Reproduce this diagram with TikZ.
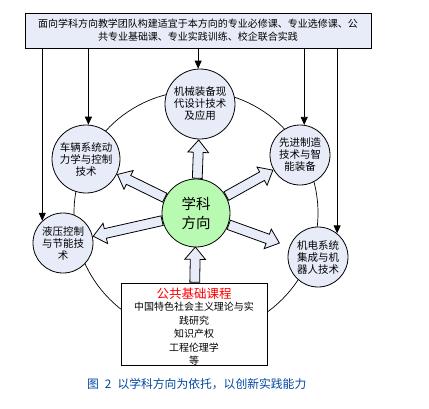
\documentclass[tikz,border=0pt]{standalone}
\usepackage{fontspec}
\setmainfont{Noto Sans CJK SC}
\usepackage{xcolor}
\usetikzlibrary{positioning, shapes.arrows, arrows.meta, calc}
\definecolor{paleblue}{RGB}{232,236,248}
\definecolor{palegreen}{RGB}{184,250,178}
\definecolor{capblue}{RGB}{0,70,160}

% block arrow from one node to another
\newcommand{\bigarrow}[3][1pt]{%
  \path (#2) -- (#3) coordinate[pos=0] (ba-s) coordinate[pos=1] (ba-e);
  \path let \p1=(ba-s), \p2=(ba-e), \n1={atan2(\y2-\y1,\x2-\x1)}, \n2={veclen(\x2-\x1,\y2-\y1)-#1} in
    node[bigarr, rotate=\n1, minimum height=\n2, anchor=tail] at (ba-s) {};
}

\begin{document}
\begin{tikzpicture}[x=1pt, y=-1pt,
    topic/.style={draw, circle, fill=paleblue, line width=0.8pt, inner sep=0pt, align=center, font=\fontsize{10.5}{12}\selectfont},
    plain/.style={draw, line width=0.8pt, align=center, inner sep=0pt},
    arr/.style={-{Triangle[length=8pt, width=7pt]}, line width=0.8pt},
    bigarr/.style={single arrow, draw, fill=paleblue, line width=0.8pt, inner sep=4.5pt, single arrow head extend=5.5pt, single arrow tip angle=80}]
    \useasboundingbox (0,0) rectangle (429,408);

    % The ring behind the topics
    \coordinate (hub) at (196,213);
    \draw[line width=0.7pt] (hub) circle[radius=122pt];

    % Top box
    \node[plain, fill=paleblue, minimum width=346pt, minimum height=35pt, font=\fontsize{10}{13}\selectfont] (top) at (198,30.5)
        {面向学科方向教学团队构建适宜于本方向的专业必修课、专业选修课、公\\共专业基础课、专业实践训练、校企联合实践};

    % Topic circles
    \node[topic, minimum size=70pt] (mech) at (200,104) {机械装备现\\代设计技术\\及应用};
    \node[topic, minimum size=68pt] (veh) at (86,159) {车辆系统动\\力学与控制\\技术};
    \node[topic, minimum size=60pt] (adv) at (300,155) {先进制造\\技术与智\\能装备};
    \node[topic, minimum size=60pt] (hyd) at (63,243) {液压控制\\与节能技\\术};
    \node[topic, minimum size=60pt] (robo) at (318,257) {机电系统\\集成与机\\器人技术};

    % Centre hub
    \node[draw, circle, fill=palegreen, line width=0.8pt, minimum size=68pt, inner sep=0pt, align=center, font=\fontsize{14.5}{19}\selectfont] (core) at (hub) {学科\\方向};

    % Bottom box and its list
    \node[plain, fill=white, minimum width=146pt, minimum height=82pt] (base) at (194,324) {};
    \node[align=center, inner sep=0pt, font=\fontsize{10}{13.6}\selectfont] (baselist) at (194,327)
        {{\color{red}\fontsize{12.5}{15}\selectfont 公共基础课程}\\[-2pt] 中国特色社会主义理论与实\\ 践研究\\ 知识产权\\ 工程伦理学\\ 等};

    % Block arrows out of the hub
    \bigarrow{core}{mech}
    \bigarrow{core}{veh}
    \bigarrow{core}{adv}
    \bigarrow{core}{hyd}
    \bigarrow[11pt]{core}{robo}
    \bigarrow[0pt]{base}{core}

    % Arrows down from the top box
    \draw[arr] (hyd.133 |- top.south) -- (hyd.133);
    \draw[arr] (veh.86 |- top.south) -- (veh.86);
    \draw[arr] (mech.93 |- top.south) -- (mech.93);
    \draw[arr] (adv.82 |- top.south) -- (adv.82);
    \draw[arr] (robo.51 |- top.south) -- (robo.51);

    % Caption
    \node[font=\fontsize{11.8}{14}\selectfont, text=capblue, anchor=west, inner sep=0pt] (cap) at (87,384)
        {图\hspace{6pt}2\hspace{6pt}以学科方向为依托，以创新实践能力};
\end{tikzpicture}
\end{document}
